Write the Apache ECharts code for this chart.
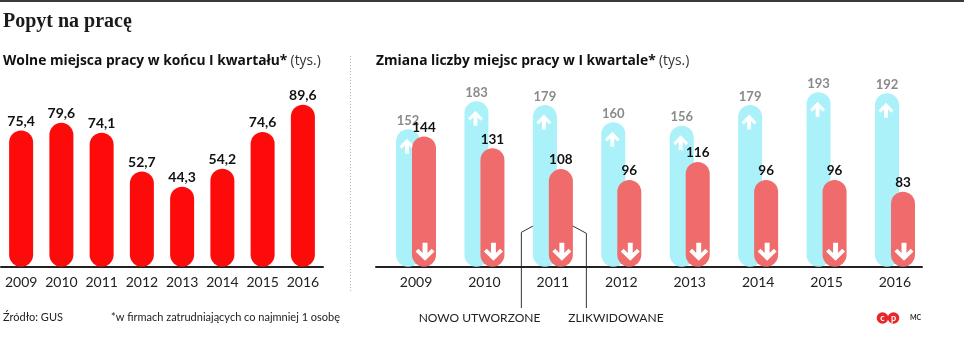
<!DOCTYPE html>
<html>
<head>
<meta charset="utf-8">
<script src="https://cdn.jsdelivr.net/npm/echarts@6/dist/echarts.min.js"></script>
<style>
html,body{margin:0;padding:0;background:#fff;}
#c{width:964px;height:346px;}
</style>
</head>
<body>
<div id="c"></div>
<script>
// ---- data ----
const years = ['2009','2010','2011','2012','2013','2014','2015','2016'];
const vacancies = [75.4, 79.6, 74.1, 52.7, 44.3, 54.2, 74.6, 89.6];
const newJobs = [152, 183, 179, 160, 156, 179, 193, 192];
const closedJobs = [144, 131, 108, 96, 116, 96, 96, 83];

const FONT = 'Lato, "Open Sans", sans-serif';
const SUBFONT = '"Open Sans", Lato, sans-serif';
const RED = '#fd0a0a';
const SALMON = '#f06b6b';
const CYAN = '#aaf1fa';

const upArrow = 'path://M-2.6,9 L2.6,9 L2.6,-1.5 L7,2.8 L10,0 L0,-9.5 L-10,0 L-7,2.8 L-2.6,-1.5 Z';
const downArrow = 'path://M-2.6,-9 L2.6,-9 L2.6,1.5 L7,-2.8 L10,0 L0,9.5 L-10,0 L-7,-2.8 L-2.6,1.5 Z';

const chart = echarts.init(document.getElementById('c'), null, {renderer: 'canvas'});

const fmtComma = v => String(v.value !== undefined ? v.value : v).replace('.', ',');

const option = {
  animation: false,
  backgroundColor: '#fff',
  textStyle: {fontFamily: FONT},
  grid: [
    {left: 1, width: 322, top: 86, bottom: 79.3},
    {left: 381.8, width: 547.4, top: 86, bottom: 79.3},
    {left: 376, width: 546, top: 86, bottom: 79.3}
  ],
  xAxis: [
    {
      type: 'category', gridIndex: 0, data: years,
      axisLine: {lineStyle: {color: '#222', width: 2}},
      axisTick: {show: false},
      axisLabel: {color: '#222', fontSize: 14, fontFamily: FONT, margin: 9, interval: 0}
    },
    {
      type: 'category', gridIndex: 1, data: years,
      axisLine: {show: false},
      axisTick: {show: false},
      axisLabel: {color: '#222', fontSize: 14, fontFamily: FONT, margin: 9, interval: 0}
    },
    {
      type: 'value', gridIndex: 2, min: 0, max: 1,
      axisLine: {show: true, onZero: false, lineStyle: {color: '#222', width: 2}},
      axisTick: {show: false}, axisLabel: {show: false}, splitLine: {show: false}
    }
  ],
  yAxis: [
    {type: 'value', gridIndex: 0, min: 0, max: 100, show: false},
    {type: 'value', gridIndex: 1, min: 0, max: 200, show: false},
    {type: 'value', gridIndex: 2, min: 0, max: 1, show: false}
  ],
  series: [
    {
      type: 'bar', xAxisIndex: 0, yAxisIndex: 0, data: vacancies,
      barWidth: 24,
      itemStyle: {color: RED, borderRadius: 12},
      label: {
        show: true, position: 'top', distance: 2,
        formatter: fmtComma,
        color: '#111', fontSize: 14, fontWeight: 'bold', fontFamily: FONT
      }
    },
    {
      type: 'bar', xAxisIndex: 1, yAxisIndex: 1, data: newJobs, name: 'nowo utworzone',
      barWidth: 24, barGap: '-33.33%', z: 1,
      itemStyle: {color: CYAN, borderRadius: 12},
      label: {
        show: true, position: 'top', distance: 2,
        color: '#8a8a8a', fontSize: 13, fontWeight: 'bold', fontFamily: FONT
      }
    },
    {
      type: 'bar', xAxisIndex: 1, yAxisIndex: 1, data: closedJobs, name: 'zlikwidowane',
      barWidth: 24, barGap: '-33.33%', z: 3,
      itemStyle: {color: SALMON, borderRadius: 12},
      label: {
        show: true, position: 'top', distance: 2,
        color: '#111', fontSize: 13.5, fontWeight: 'bold', fontFamily: FONT
      }
    },
    {
      type: 'scatter', xAxisIndex: 1, yAxisIndex: 1, z: 2,
      data: years.map((y, i) => [y, newJobs[i]]),
      symbol: upArrow, symbolSize: [15, 15], symbolOffset: [-9, 17],
      itemStyle: {color: '#fff', opacity: 1}, silent: true
    },
    {
      type: 'scatter', xAxisIndex: 1, yAxisIndex: 1, z: 4,
      data: years.map(y => [y, 0]),
      symbol: downArrow, symbolSize: [19, 18], symbolOffset: [9, -15],
      itemStyle: {color: '#fff', opacity: 1}, silent: true
    }
  ],
  graphic: [
    {type: 'rect', shape: {x: 0, y: 0, width: 964, height: 2}, style: {fill: '#3a3a3a'}},
    {type: 'text', left: 3, top: 12, style: {text: 'Popyt na pracę', font: 'bold 20px "Liberation Serif", serif', fill: '#1a1a1a'}},
    {type: 'text', left: 3, top: 54, style: {
      text: '{b|Wolne miejsca pracy w końcu I kwartału*} {n|(tys.)}',
      rich: {
        b: {font: 'bold 13.8px ' + SUBFONT, fill: '#111'},
        n: {font: '13.8px ' + SUBFONT, fill: '#333'}
      }
    }},
    {type: 'text', left: 376, top: 54, style: {
      text: '{b|Zmiana liczby miejsc pracy w I kwartale*} {n|(tys.)}',
      rich: {
        b: {font: 'bold 13.8px ' + SUBFONT, fill: '#111'},
        n: {font: '13.8px ' + SUBFONT, fill: '#333'}
      }
    }},
    {type: 'line', shape: {x1: 350.5, y1: 56, x2: 350.5, y2: 292}, style: {stroke: '#b5b5b5', lineWidth: 1, lineDash: [1, 2]}},
    {type: 'text', left: 3, top: 312, style: {text: 'Źródło: GUS', font: '11px ' + FONT, fill: '#222'}},
    {type: 'text', left: 111, top: 312, style: {text: '*w firmach zatrudniających co najmniej 1 osobę', font: '11px ' + FONT, fill: '#222'}},
    {type: 'circle', shape: {cx: 882.5, cy: 318, r: 5.8}, style: {fill: '#e8272c'}},
    {type: 'circle', shape: {cx: 893.5, cy: 318, r: 5.8}, style: {fill: '#e8272c'}},
    {type: 'text', x: 882.5, y: 318, style: {text: 'c', font: 'bold 9px ' + FONT, fill: '#fff', align: 'center', verticalAlign: 'middle'}},
    {type: 'text', x: 893.5, y: 318, style: {text: 'p', font: 'bold 9px ' + FONT, fill: '#fff', align: 'center', verticalAlign: 'middle'}},
    {type: 'text', left: 910, top: 314, style: {text: 'MC', font: 'bold 7px ' + FONT, fill: '#333'}}
  ]
};

chart.setOption(option);

// annotation leader lines anchored on the 2011 pair of bars
const p = chart.convertToPixel({xAxisIndex: 1, yAxisIndex: 1}, ['2011', 48]);
const bx = p[0] - 15, rx = p[0] + 15, ay = p[1];
const lx = p[0] - 31.5, rxe = p[0] + 33.5;
chart.setOption({
  graphic: option.graphic.concat([
    {type: 'polyline', shape: {points: [[bx, ay], [lx, ay + 9], [lx, 308]]}, style: {stroke: '#333', lineWidth: 1, fill: null}},
    {type: 'polyline', shape: {points: [[rx, ay], [rxe, ay + 10], [rxe, 308]]}, style: {stroke: '#333', lineWidth: 1, fill: null}},
    {type: 'circle', shape: {cx: bx, cy: ay, r: 1.5}, style: {fill: '#333'}},
    {type: 'circle', shape: {cx: rx, cy: ay, r: 1.5}, style: {fill: '#333'}},
    {type: 'text', x: lx + 19, y: 318, style: {text: 'NOWO UTWORZONE', font: '12px ' + FONT, fill: '#222', align: 'right', verticalAlign: 'middle'}},
    {type: 'text', x: rxe - 18, y: 318, style: {text: 'ZLIKWIDOWANE', font: '12px ' + FONT, fill: '#222', align: 'left', verticalAlign: 'middle'}}
  ])
});
</script>
</body>
</html>
